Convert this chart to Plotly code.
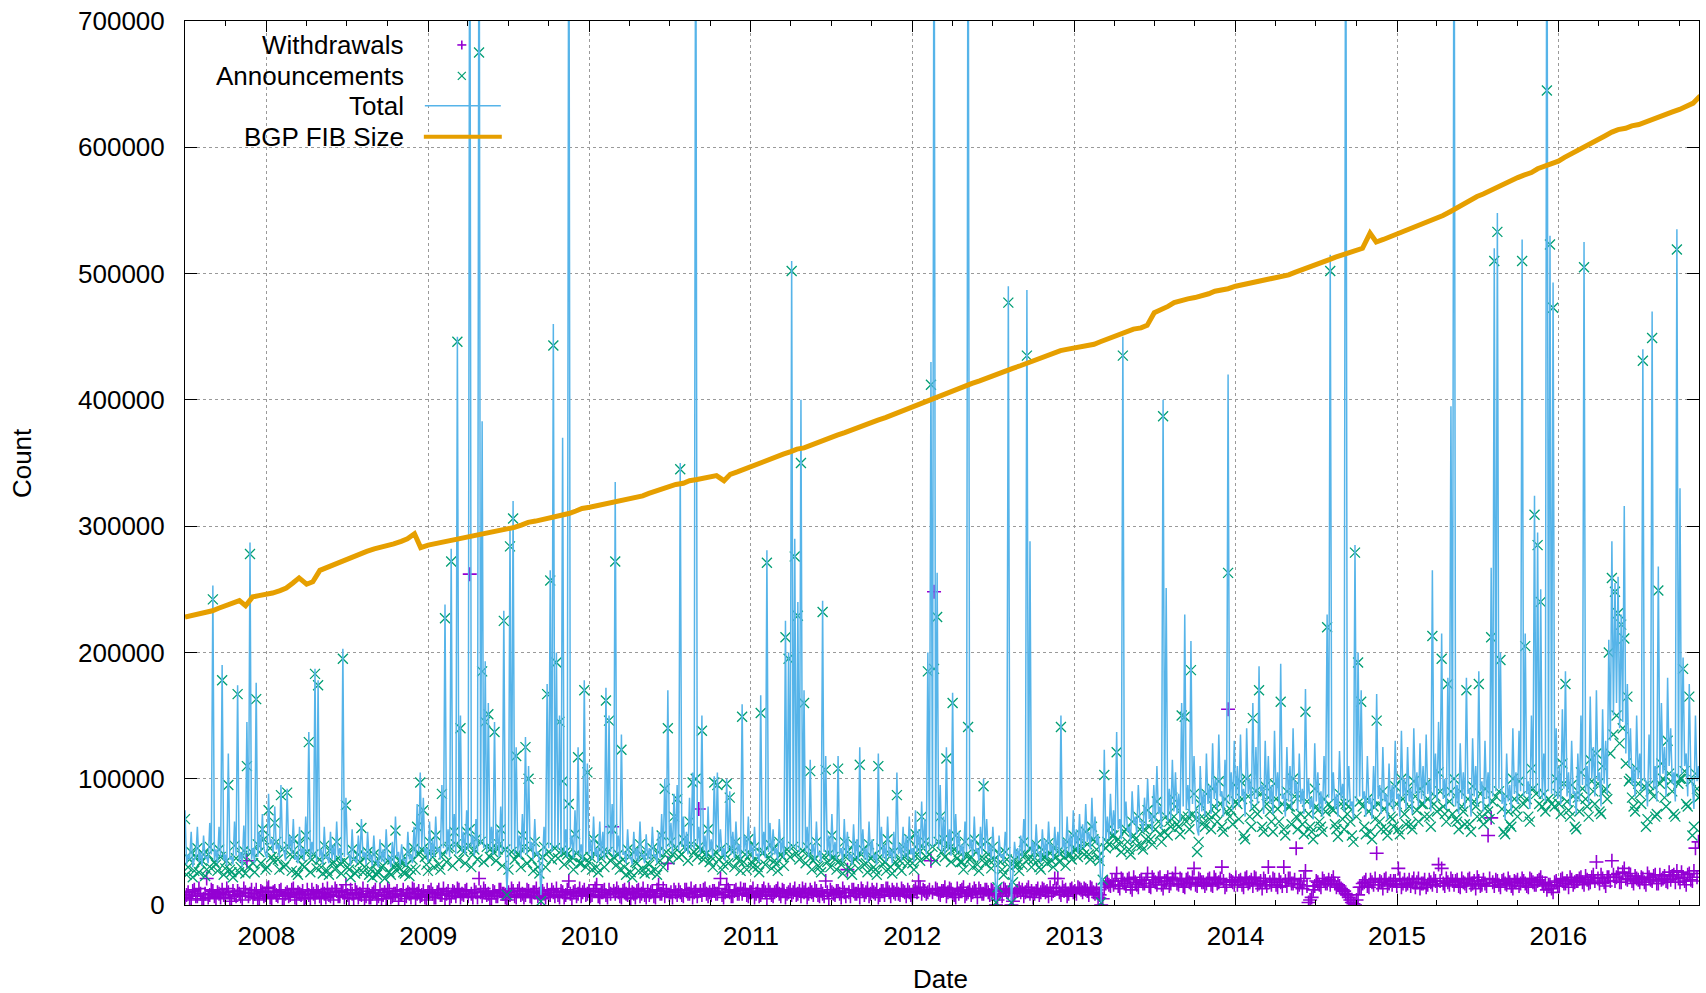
import pandas as pd
import plotly.graph_objects as go

# ---------------- data (thousands) ----------------
# two readings per week: one on the week start (Sunday) and one mid-week
week_start = "2007-07-01"

total_k = [
    75, 40, 58, 36, 62, 42, 55, 38, 65, 253,
    44, 62, 190, 40, 120, 38, 66, 174, 42, 63,
    145, 287, 45, 176, 58, 72, 40, 88, 52, 78,
    48, 95, 42, 92, 55, 68, 38, 62, 45, 70,
    137, 50, 187, 178, 44, 62, 38, 58, 48, 66,
    45, 203, 85, 40, 60, 36, 55, 68, 42, 58,
    40, 55, 35, 52, 44, 60, 38, 50, 70, 42,
    48, 36, 58, 40, 62, 80, 105, 85, 45, 66,
    52, 70, 45, 95, 238, 60, 282, 72, 450, 150,
    58, 75, 900, 55, 68, 900, 383, 193, 160, 62,
    145, 60, 78, 233, 12, 300, 320, 125, 55, 72,
    133, 110, 50, 68, 42, 8, 62, 175, 265, 460,
    200, 150, 370, 60, 900, 55, 75, 125, 48, 178,
    112, 52, 70, 45, 66, 58, 172, 150, 80, 335,
    55, 135, 42, 60, 38, 58, 45, 66, 40, 56,
    45, 62, 40, 58, 72, 100, 170, 65, 88, 95,
    350, 70, 58, 85, 105, 900, 62, 150, 55, 78,
    52, 102, 105, 60, 45, 100, 90, 58, 66, 48,
    159, 55, 70, 48, 62, 40, 166, 58, 281, 65,
    60, 45, 68, 52, 225, 200, 510, 290, 240, 400,
    170, 62, 115, 48, 66, 42, 241, 118, 55, 72,
    50, 118, 45, 68, 58, 40, 64, 52, 125, 60,
    45, 66, 52, 40, 120, 62, 48, 70, 44, 58,
    105, 48, 62, 55, 70, 45, 75, 60, 82, 68,
    200, 430, 900, 263, 95, 70, 125, 60, 168, 72,
    58, 48, 66, 900, 52, 70, 45, 62, 100, 68,
    48, 62, 3, 55, 40, 58, 490, 3, 50, 45,
    55, 68, 487, 288, 50, 64, 42, 60, 52, 66,
    48, 62, 58, 150, 52, 70, 56, 75, 60, 72,
    64, 80, 58, 85, 70, 55, 2, 123, 70, 88,
    75, 137, 68, 450, 82, 62, 90, 70, 95, 66,
    85, 100, 72, 95, 110, 78, 400, 251, 92, 115,
    105, 88, 160, 230, 95, 209, 118, 60, 110, 90,
    120, 95, 128, 100, 135, 90, 115, 420, 105, 130,
    110, 135, 92, 140, 100, 160, 125, 189, 95, 130,
    118, 95, 138, 105, 191, 88, 125, 110, 140, 98,
    120, 92, 171, 100, 85, 128, 105, 90, 118, 230,
    515, 105, 88, 122, 96, 900, 110, 82, 285, 200,
    170, 90, 118, 85, 110, 167, 95, 125, 88, 112,
    95, 130, 88, 138, 100, 125, 92, 140, 105, 128,
    110, 135, 98, 265, 120, 145, 215, 100, 180, 395,
    900, 95, 128, 105, 180, 92, 132, 110, 185, 98,
    130, 105, 267, 520, 548, 200, 88, 120, 95, 140,
    105, 138, 527, 215, 98, 150, 324, 295, 250, 120,
    900, 530, 493, 140, 110, 155, 185, 105, 130, 90,
    120, 150, 525, 110, 165, 125, 170, 105, 155, 130,
    210, 288, 255, 260, 230, 316, 175, 140, 110, 150,
    120, 440, 98, 135, 470, 110, 268, 160, 125, 180,
    140, 105, 535, 330, 196, 120, 175, 95, 150, 110,
]
total_mid_k = [
    32, 36, 30, 38, 34, 31, 37, 33, 40, 35,
    33, 38, 35, 31, 36, 32, 39, 34, 30, 37,
    40, 36, 33, 38, 42, 45, 37, 48, 41, 44,
    38, 46, 35, 44, 40, 36, 33, 39, 35, 42,
    36, 40, 34, 38, 32, 37, 33, 36, 35, 39,
    34, 38, 40, 31, 36, 33, 35, 38, 32, 36,
    31, 35, 30, 34, 33, 36, 30, 33, 38, 32,
    35, 31, 36, 33, 38, 42, 45, 40, 34, 37,
    38, 42, 36, 45, 40, 38, 44, 40, 48, 42,
    40, 44, 46, 39, 42, 48, 45, 42, 44, 40,
    43, 38, 42, 45, 36, 44, 40, 42, 37, 41,
    40, 44, 36, 40, 35, 38, 41, 45, 42, 46,
    44, 40, 42, 38, 45, 37, 41, 39, 35, 42,
    40, 36, 39, 34, 38, 36, 40, 42, 38, 41,
    36, 40, 33, 37, 32, 36, 34, 38, 33, 36,
    35, 38, 33, 37, 40, 44, 46, 41, 45, 43,
    46, 42, 40, 45, 44, 48, 41, 43, 38, 42,
    38, 44, 42, 39, 35, 43, 40, 37, 40, 36,
    42, 38, 41, 36, 39, 34, 40, 37, 42, 38,
    40, 35, 41, 37, 45, 43, 46, 44, 42, 45,
    42, 38, 40, 35, 39, 34, 42, 40, 36, 39,
    36, 40, 34, 38, 36, 32, 37, 35, 40, 36,
    34, 38, 36, 32, 40, 37, 34, 38, 33, 36,
    40, 35, 38, 36, 40, 34, 42, 38, 44, 40,
    44, 46, 48, 45, 42, 40, 43, 39, 45, 41,
    40, 36, 42, 44, 38, 42, 35, 40, 44, 41,
    36, 40, 20, 38, 34, 39, 40, 25, 37, 35,
    38, 42, 44, 40, 36, 41, 34, 39, 37, 42,
    36, 41, 39, 44, 38, 42, 40, 45, 41, 44,
    45, 50, 44, 52, 48, 42, 30, 50, 52, 56,
    55, 60, 52, 62, 58, 50, 64, 56, 66, 58,
    62, 68, 58, 66, 72, 60, 70, 66, 68, 74,
    72, 66, 78, 75, 70, 80, 76, 55, 74, 70,
    80, 72, 84, 76, 86, 70, 78, 82, 75, 84,
    78, 86, 70, 88, 76, 84, 80, 90, 72, 82,
    80, 72, 86, 78, 84, 70, 82, 76, 88, 74,
    80, 72, 84, 76, 68, 82, 75, 70, 80, 85,
    82, 76, 70, 84, 74, 80, 78, 68, 82, 86,
    84, 70, 80, 68, 76, 84, 72, 82, 68, 78,
    74, 84, 70, 86, 76, 82, 72, 88, 78, 84,
    80, 88, 74, 86, 82, 90, 84, 76, 86, 80,
    78, 72, 84, 76, 88, 70, 86, 78, 90, 74,
    84, 78, 86, 90, 92, 80, 68, 82, 74, 88,
    80, 90, 86, 88, 76, 92, 90, 86, 84, 82,
    90, 88, 86, 84, 80, 92, 86, 78, 88, 72,
    82, 95, 90, 80, 100, 86, 98, 78, 96, 88,
    130, 150, 160, 140, 145, 120, 110, 95, 86, 100,
    90, 100, 78, 96, 92, 82, 98, 104, 86, 110,
    96, 82, 100, 104, 110, 86, 102, 76, 98, 90,
]

announcements_k = [
    68, 30, 42, 27, 45, 33, 40, 28, 46, 242,
    32, 44, 178, 29, 95, 26, 47, 167, 30, 43,
    110, 278, 33, 163, 42, 60, 28, 75, 38, 65,
    36, 87, 30, 89, 40, 52, 26, 48, 32, 55,
    129, 36, 183, 174, 30, 47, 27, 44, 34, 50,
    33, 195, 79, 28, 44, 25, 40, 61, 30, 42,
    28, 40, 24, 38, 31, 45, 26, 36, 59, 30,
    34, 25, 42, 28, 45, 62, 97, 75, 32, 50,
    38, 55, 32, 88, 227, 45, 272, 58, 446, 140,
    42, 58, 60, 40, 52, 675, 185, 145, 151, 45,
    137, 44, 60, 225, 8, 284, 306, 118, 40, 55,
    125, 100, 36, 50, 30, 3, 46, 167, 257, 443,
    192, 145, 98, 42, 80, 38, 56, 117, 33, 170,
    105, 38, 52, 30, 48, 42, 162, 146, 60, 272,
    40, 123, 30, 44, 26, 42, 33, 48, 28, 40,
    32, 45, 28, 42, 55, 92, 140, 50, 70, 84,
    345, 52, 44, 66, 97, 100, 46, 138, 40, 60,
    38, 97, 95, 44, 32, 96, 85, 42, 50, 35,
    149, 40, 52, 34, 46, 30, 152, 42, 271, 48,
    44, 32, 50, 38, 212, 195, 502, 276, 229, 350,
    160, 46, 106, 35, 50, 30, 232, 107, 40, 55,
    36, 108, 32, 50, 42, 28, 48, 38, 111, 44,
    33, 48, 38, 28, 110, 45, 34, 52, 30, 42,
    87, 35, 46, 40, 52, 33, 56, 44, 70, 50,
    185, 412, 187, 228, 70, 52, 116, 45, 160, 55,
    42, 34, 50, 141, 38, 52, 32, 46, 94, 50,
    35, 46, 2, 40, 28, 42, 477, 2, 36, 32,
    40, 50, 435, 45, 36, 48, 30, 44, 38, 49,
    35, 46, 42, 141, 38, 50, 40, 55, 44, 52,
    45, 58, 40, 62, 50, 38, 2, 103, 50, 62,
    55, 121, 48, 435, 60, 44, 66, 52, 70, 47,
    60, 75, 52, 70, 82, 56, 387, 70, 66, 85,
    78, 62, 150, 149, 70, 186, 88, 42, 80, 65,
    88, 68, 92, 72, 98, 62, 84, 263, 75, 95,
    80, 98, 55, 100, 70, 148, 90, 170, 62, 94,
    85, 66, 96, 76, 161, 60, 90, 78, 100, 70,
    86, 64, 153, 72, 58, 92, 75, 62, 84, 220,
    502, 75, 60, 88, 68, 80, 78, 55, 279, 192,
    161, 62, 84, 58, 78, 146, 66, 90, 60, 80,
    68, 94, 60, 100, 72, 90, 64, 98, 75, 92,
    80, 96, 70, 213, 86, 105, 195, 72, 175, 90,
    100, 66, 90, 74, 170, 64, 94, 78, 175, 70,
    92, 74, 212, 510, 533, 194, 58, 86, 64, 100,
    76, 98, 510, 205, 70, 108, 309, 285, 240, 88,
    645, 523, 473, 100, 80, 112, 175, 75, 95, 62,
    85, 105, 505, 78, 115, 90, 120, 74, 110, 92,
    200, 259, 248, 231, 222, 211, 165, 100, 78, 108,
    88, 431, 62, 95, 449, 70, 249, 112, 85, 130,
    98, 72, 519, 100, 187, 80, 165, 55, 104, 85,
]
announcements_mid_k = [
    24, 36, 22, 38, 26, 35, 23, 40, 29, 34,
    27, 38, 24, 35, 28, 22, 37, 26, 39, 25,
    30, 42, 26, 48, 33, 52, 30, 45, 35, 50,
    28, 44, 32, 46, 27, 40, 24, 38, 30, 42,
    26, 40, 29, 36, 25, 38, 24, 33, 28, 37,
    25, 35, 30, 22, 36, 27, 34, 26, 38, 24,
    22, 33, 26, 30, 21, 35, 24, 31, 27, 34,
    26, 32, 23, 36, 28, 40, 44, 38, 27, 42,
    30, 44, 28, 40, 34, 46, 31, 48, 36, 45,
    33, 47, 30, 44, 36, 50, 34, 46, 38, 42,
    35, 48, 31, 44, 28, 42, 36, 40, 30, 46,
    33, 44, 27, 40, 25, 38, 30, 42, 36, 45,
    37, 43, 32, 40, 35, 28, 41, 33, 38, 30,
    34, 28, 40, 26, 37, 30, 42, 35, 38, 32,
    28, 36, 24, 38, 22, 34, 27, 40, 25, 33,
    26, 38, 24, 35, 30, 42, 36, 40, 45, 38,
    40, 46, 35, 48, 42, 38, 44, 36, 41, 34,
    30, 42, 36, 28, 40, 33, 45, 30, 38, 27,
    34, 28, 40, 30, 36, 26, 41, 32, 37, 29,
    35, 27, 40, 31, 44, 38, 46, 41, 36, 43,
    33, 40, 28, 37, 31, 26, 39, 34, 30, 38,
    28, 35, 25, 38, 30, 24, 36, 29, 40, 32,
    26, 37, 30, 24, 38, 32, 27, 41, 25, 34,
    30, 27, 38, 33, 42, 28, 40, 35, 45, 38,
    40, 46, 35, 50, 42, 38, 48, 34, 44, 37,
    34, 28, 40, 36, 30, 42, 27, 38, 33, 40,
    29, 36, 14, 34, 24, 36, 30, 18, 32, 27,
    32, 40, 36, 30, 42, 35, 28, 38, 33, 41,
    30, 38, 34, 42, 31, 40, 36, 44, 38, 46,
    40, 48, 36, 52, 44, 35, 20, 45, 48, 55,
    46, 52, 42, 58, 50, 40, 55, 47, 60, 44,
    52, 62, 48, 60, 66, 50, 58, 55, 62, 70,
    64, 56, 70, 66, 60, 72, 68, 50, 70, 62,
    72, 60, 78, 66, 80, 58, 74, 70, 64, 82,
    68, 84, 52, 86, 62, 78, 72, 88, 58, 80,
    74, 58, 84, 66, 80, 55, 78, 64, 86, 60,
    72, 56, 82, 62, 52, 78, 66, 58, 74, 80,
    76, 64, 54, 80, 60, 72, 66, 50, 70, 82,
    78, 56, 74, 52, 68, 80, 60, 76, 55, 70,
    62, 80, 56, 84, 64, 78, 60, 86, 66, 80,
    70, 84, 62, 80, 74, 90, 78, 66, 82, 72,
    68, 60, 78, 64, 84, 58, 82, 70, 88, 64,
    78, 68, 82, 86, 90, 76, 56, 74, 62, 84,
    70, 86, 80, 84, 66, 92, 88, 80, 78, 74,
    84, 80, 78, 88, 72, 96, 82, 70, 86, 60,
    74, 92, 84, 70, 98, 80, 96, 72, 90, 84,
    120, 135, 150, 128, 140, 112, 98, 85, 74, 96,
    80, 94, 68, 90, 86, 72, 96, 100, 78, 104,
    90, 70, 96, 100, 106, 78, 98, 62, 92, 86,
]

withdrawals_k = [
    6, 10, 4, 12, 7, 9, 5, 21, 8, 11,
    5, 9, 12, 6, 10, 3, 8, 11, 7, 13,
    35, 9, 6, 12, 4, 10, 8, 14, 5, 11,
    7, 12, 5, 10, 8, 13, 4, 9, 11, 6,
    8, 12, 6, 10, 5, 9, 13, 7, 4, 11,
    7, 10, 16, 5, 9, 12, 6, 8, 4, 11,
    6, 10, 4, 12, 8, 5, 11, 7, 9, 3,
    8, 5, 10, 6, 12, 9, 7, 11, 4, 10,
    9, 6, 12, 8, 5, 11, 7, 10, 13, 6,
    8, 12, 262, 6, 10, 21, 7, 11, 9, 5,
    10, 7, 12, 9, 4, 8, 11, 6, 13, 9,
    8, 11, 6, 10, 7, 5, 9, 12, 8, 10,
    13, 6, 10, 8, 19, 5, 11, 9, 7, 12,
    9, 7, 11, 16, 6, 10, 8, 12, 62, 9,
    10, 6, 12, 8, 5, 9, 11, 7, 13, 6,
    8, 11, 6, 16, 9, 7, 33, 10, 12, 8,
    10, 7, 12, 9, 6, 11, 76, 8, 13, 7,
    8, 11, 9, 21, 6, 16, 10, 7, 12, 9,
    9, 12, 7, 10, 6, 11, 8, 13, 5, 10,
    7, 11, 9, 12, 6, 10, 8, 13, 9, 7,
    10, 6, 12, 8, 11, 7, 9, 19, 5, 10,
    8, 11, 6, 10, 28, 7, 12, 9, 6, 11,
    10, 7, 12, 9, 6, 11, 8, 13, 7, 10,
    12, 8, 11, 7, 10, 6, 13, 19, 9, 11,
    10, 35, 248, 12, 8, 11, 7, 13, 9, 6,
    9, 12, 7, 10, 8, 13, 6, 11, 9, 12,
    8, 11, 0, 9, 7, 12, 10, 0, 9, 11,
    10, 7, 12, 9, 6, 11, 8, 13, 10, 7,
    9, 21, 21, 8, 11, 7, 12, 10, 9, 13,
    10, 12, 8, 13, 9, 6, 0, 14, 18, 15,
    16, 25, 13, 19, 15, 21, 12, 18, 14, 20,
    17, 25, 14, 20, 16, 22, 13, 19, 15, 21,
    25, 16, 19, 14, 21, 17, 29, 15, 20, 18,
    17, 21, 15, 20, 18, 30, 14, 155, 19, 16,
    16, 20, 14, 22, 18, 15, 21, 17, 13, 19,
    30, 16, 20, 14, 18, 30, 15, 21, 17, 45,
    16, 13, 27, 2, 6, 15, 18, 14, 19, 17,
    16, 22, 14, 15, 12, 9, 6, 2, 0, 8,
    14, 18, 15, 20, 16, 41, 19, 13, 21, 17,
    16, 19, 29, 14, 20, 17, 15, 21, 18, 13,
    17, 14, 20, 16, 19, 32, 29, 15, 18, 21,
    16, 20, 14, 18, 15, 21, 17, 13, 19, 16,
    17, 55, 69, 15, 19, 14, 20, 16, 18, 13,
    18, 15, 21, 17, 14, 20, 16, 19, 22, 15,
    12, 16, 10, 19, 15, 21, 17, 14, 20, 18,
    19, 22, 16, 20, 18, 24, 34, 17, 21, 15,
    22, 35, 19, 25, 18, 29, 20, 23, 17, 21,
    18, 21, 16, 22, 19, 24, 17, 20, 23, 18,
    20, 24, 27, 18, 22, 16, 25, 19, 45, 50,
]
withdrawals_mid_k = [
    8, 5, 11, 7, 13, 4, 9, 6, 12, 7,
    10, 6, 8, 13, 5, 11, 7, 9, 4, 10,
    7, 12, 9, 5, 11, 7, 13, 6, 10, 8,
    11, 5, 9, 7, 12, 6, 10, 8, 5, 12,
    5, 9, 11, 7, 12, 6, 8, 10, 13, 7,
    11, 6, 8, 12, 5, 10, 9, 13, 7, 6,
    9, 12, 7, 5, 10, 13, 6, 9, 11, 8,
    12, 7, 9, 13, 5, 11, 8, 6, 10, 12,
    6, 10, 8, 13, 9, 5, 11, 7, 12, 9,
    11, 7, 9, 12, 6, 10, 13, 8, 5, 11,
    7, 12, 9, 6, 10, 13, 7, 11, 8, 6,
    12, 7, 10, 13, 9, 11, 6, 8, 12, 7,
    8, 11, 6, 12, 9, 10, 7, 13, 10, 8,
    11, 8, 13, 7, 10, 12, 6, 9, 11, 13,
    7, 11, 9, 13, 10, 6, 12, 9, 8, 11,
    10, 7, 12, 9, 13, 11, 8, 6, 10, 12,
    8, 12, 9, 13, 10, 7, 11, 12, 9, 10,
    11, 9, 13, 8, 10, 12, 7, 11, 9, 13,
    12, 8, 10, 13, 9, 7, 11, 10, 12, 8,
    10, 13, 7, 11, 9, 12, 10, 8, 11, 13,
    12, 9, 10, 13, 8, 11, 7, 10, 12, 9,
    11, 9, 13, 7, 10, 12, 9, 11, 13, 8,
    13, 9, 10, 12, 8, 11, 13, 10, 12, 9,
    9, 13, 10, 12, 8, 11, 10, 14, 12, 9,
    12, 10, 13, 9, 11, 14, 10, 12, 8, 13,
    11, 14, 9, 12, 10, 11, 13, 9, 12, 10,
    12, 9, 4, 11, 13, 10, 12, 3, 11, 13,
    12, 10, 14, 11, 9, 13, 10, 12, 11, 14,
    11, 13, 10, 14, 12, 9, 13, 11, 14, 12,
    13, 11, 14, 10, 12, 8, 5, 17, 16, 19,
    19, 15, 21, 17, 20, 14, 22, 16, 19, 17,
    20, 15, 22, 18, 21, 16, 19, 22, 17, 20,
    17, 21, 15, 20, 18, 22, 16, 21, 18, 15,
    20, 16, 22, 17, 21, 19, 16, 20, 18, 22,
    19, 16, 21, 17, 20, 22, 16, 19, 21, 15,
    18, 21, 16, 20, 15, 19, 21, 17, 20, 14,
    19, 21, 15, 4, 12, 19, 16, 21, 17, 20,
    19, 17, 16, 13, 11, 8, 4, 1, 4, 14,
    17, 20, 14, 18, 21, 16, 18, 20, 15, 19,
    19, 15, 21, 17, 16, 20, 18, 14, 21, 17,
    20, 16, 18, 21, 15, 19, 17, 21, 16, 19,
    19, 15, 21, 17, 20, 16, 19, 22, 15, 20,
    15, 21, 18, 20, 16, 19, 17, 21, 15, 19,
    20, 17, 19, 15, 21, 18, 16, 20, 18, 17,
    16, 13, 18, 15, 20, 17, 19, 22, 16, 19,
    21, 18, 23, 17, 22, 19, 21, 24, 18, 22,
    19, 24, 22, 18, 26, 21, 25, 19, 23, 20,
    22, 18, 25, 20, 23, 17, 24, 21, 19, 26,
    23, 18, 21, 26, 19, 24, 20, 27, 22, 25,
]

# BGP FIB size, semi-monthly (1st and 15th) from 2007-07-01, thousands
fib_start = "2007-07-01"
fib_k = [
    228, 229, 230, 232, 233, 235, 237, 239, 241, 237, 244, 245,
    246, 247, 249, 251, 255, 259, 254, 256, 265, 267, 270, 272,
    274, 276, 278, 280, 282, 283, 285, 286, 288, 290, 294, 283,
    285, 286, 287, 288, 289, 290, 291, 293, 294, 295, 296, 297,
    298, 299, 301, 303, 304, 305, 306, 308, 309, 310, 312, 314,
    315, 316, 317, 318, 319, 320, 321, 323, 324, 326, 328, 330,
    331, 333, 334, 336, 337, 338, 339, 340, 336, 341, 343, 345,
    347, 349, 351, 353, 355, 357, 359, 361, 362, 364, 366, 368,
    370, 372, 374, 376, 378, 380, 382, 384, 386, 388, 390, 392,
    394, 396, 399, 401, 403, 405, 407, 409, 411, 413, 415, 417,
    419, 421, 423, 425, 427, 429, 431, 433, 435, 437, 439, 440,
    441, 442, 443, 444, 446, 448, 450, 452, 454, 456, 457, 459,
    469, 471, 474, 477, 479, 480, 481, 482, 484, 486, 487, 488,
    490, 491, 492, 493, 494, 495, 496, 497, 499, 501, 503, 505,
    507, 509, 511, 513, 515, 517, 518, 520, 532, 525, 527, 529,
    531, 533, 535, 537, 539, 541, 544, 546, 549, 552, 555, 558,
    561, 563, 566, 568, 571, 573, 576, 578, 580, 583, 585, 587,
    589, 592, 595, 598, 601, 603, 606, 609, 612, 614, 615, 617,
    618, 620, 622, 624, 626, 628, 630, 632, 635, 640, 642,
]

x_range = ["2007-07-01", "2016-11-14"]
count_ticks = [0, 100000, 200000, 300000, 400000, 500000, 600000, 700000]
legend_labels = ["Withdrawals", "Announcements", "Total", "BGP FIB Size"]

# ---------------- colours / style ----------------
C_W = "#9400D3"
C_A = "#009E73"
C_T = "#56B4E9"
C_F = "#E69F00"
FONT = "Liberation Sans, Arial, sans-serif"

wk = pd.date_range(week_start, periods=len(total_k), freq="7D")
mid = wk + pd.Timedelta(hours=84)
fib_dates = pd.date_range(fib_start, periods=len(fib_k), freq="SMS")


def weave(week_vals, mid_vals):
    s = pd.Series(list(week_vals) + list(mid_vals), index=list(wk) + list(mid)).sort_index()
    return s.index, s.values * 1000


xw, yw = weave(withdrawals_k, withdrawals_mid_k)
xa, ya = weave(announcements_k, announcements_mid_k)
xt, yt = weave(total_k, total_mid_k)

fig = go.Figure()
fig.add_trace(go.Scatter(
    x=xw, y=yw, mode="markers", name=legend_labels[0],
    marker=dict(symbol="cross-thin", size=10, color=C_W, line=dict(width=1.6, color=C_W)),
))
fig.add_trace(go.Scatter(
    x=xa, y=ya, mode="markers", name=legend_labels[1],
    marker=dict(symbol="x-thin", size=10, color=C_A, line=dict(width=1.3, color=C_A)),
))
fig.add_trace(go.Scatter(
    x=xt, y=yt, mode="lines", name=legend_labels[2],
    line=dict(color=C_T, width=1.5),
))
fig.add_trace(go.Scatter(
    x=fib_dates, y=[v * 1000 for v in fib_k], mode="lines", name=legend_labels[3],
    line=dict(color=C_F, width=5),
))

# plot area in pixels
L, R, T, B = 185, 1700, 19, 905
W_PX, H_PX = R - L, B - T


def px(x):
    return (x - L) / W_PX


def py(y):
    return (B - y) / H_PX


fig.update_layout(
    width=1706, height=993,
    margin=dict(l=L, r=1706 - R, t=T, b=993 - B, pad=0),
    paper_bgcolor="white", plot_bgcolor="white",
    showlegend=False,
    font=dict(family=FONT, size=26, color="black"),
)

axis_common = dict(
    showline=True, linecolor="black", linewidth=1, mirror="ticks",
    ticks="inside", tickcolor="black", tickwidth=1,
    showgrid=True, gridcolor="#9a9a9a", griddash="dot", gridwidth=1,
    zeroline=False, tickfont=dict(family=FONT, size=26, color="black"),
)

fig.update_xaxes(
    type="date", range=x_range,
    tickmode="linear", tick0="2008-01-01", dtick="M12", tickformat="%Y",
    ticklen=11, ticklabelstandoff=8,
    minor=dict(ticks="inside", ticklen=5, tickcolor="black", dtick="M3",
               tick0="2008-01-01", showgrid=False),
    **axis_common,
)
fig.update_yaxes(
    range=[0, 700000], tickmode="array", tickvals=count_ticks,
    ticktext=[str(v) for v in count_ticks], ticklen=12, ticklabelstandoff=14,
    **axis_common,
)

annotations = []
shapes = []

# axis titles
annotations.append(dict(text="Count", xref="paper", yref="paper", x=px(22), y=py(462),
                        showarrow=False, textangle=-90, font=dict(size=26, family=FONT),
                        xanchor="center", yanchor="middle"))
annotations.append(dict(text="Date", xref="paper", yref="paper", x=px(941), y=py(979),
                        showarrow=False, font=dict(size=26, family=FONT),
                        xanchor="center", yanchor="middle"))

# legend (gnuplot style: text right-aligned, sample to the right)
rows_y = [43, 74, 104, 135]
for lab, yy in zip(legend_labels, rows_y):
    annotations.append(dict(text=lab, xref="paper", yref="paper", x=px(406), y=py(yy),
                            showarrow=False, xanchor="right", yanchor="middle",
                            font=dict(size=26, family=FONT)))

mx = 462
shapes.append(dict(type="line", xref="paper", yref="paper", x0=px(mx - 4.5), x1=px(mx + 4.5),
                   y0=py(rows_y[0]), y1=py(rows_y[0]), line=dict(color=C_W, width=1.6)))
shapes.append(dict(type="line", xref="paper", yref="paper", x0=px(mx), x1=px(mx),
                   y0=py(rows_y[0] - 4.5), y1=py(rows_y[0] + 4.5), line=dict(color=C_W, width=1.6)))
for d in (1, -1):
    shapes.append(dict(type="line", xref="paper", yref="paper", x0=px(mx - 4), x1=px(mx + 4),
                       y0=py(rows_y[1] - 4 * d), y1=py(rows_y[1] + 4 * d),
                       line=dict(color=C_A, width=1.3)))
shapes.append(dict(type="line", xref="paper", yref="paper", x0=px(425), x1=px(501),
                   y0=py(rows_y[2]), y1=py(rows_y[2]), line=dict(color=C_T, width=1.5)))
shapes.append(dict(type="line", xref="paper", yref="paper", x0=px(424), x1=px(502),
                   y0=py(rows_y[3]), y1=py(rows_y[3]), line=dict(color=C_F, width=4)))

fig.update_layout(annotations=annotations, shapes=shapes)

fig.write_html(
    "out.html",
    config={"displayModeBar": False},
    post_script="document.body.style.margin='0';document.documentElement.style.overflow='hidden';",
)
